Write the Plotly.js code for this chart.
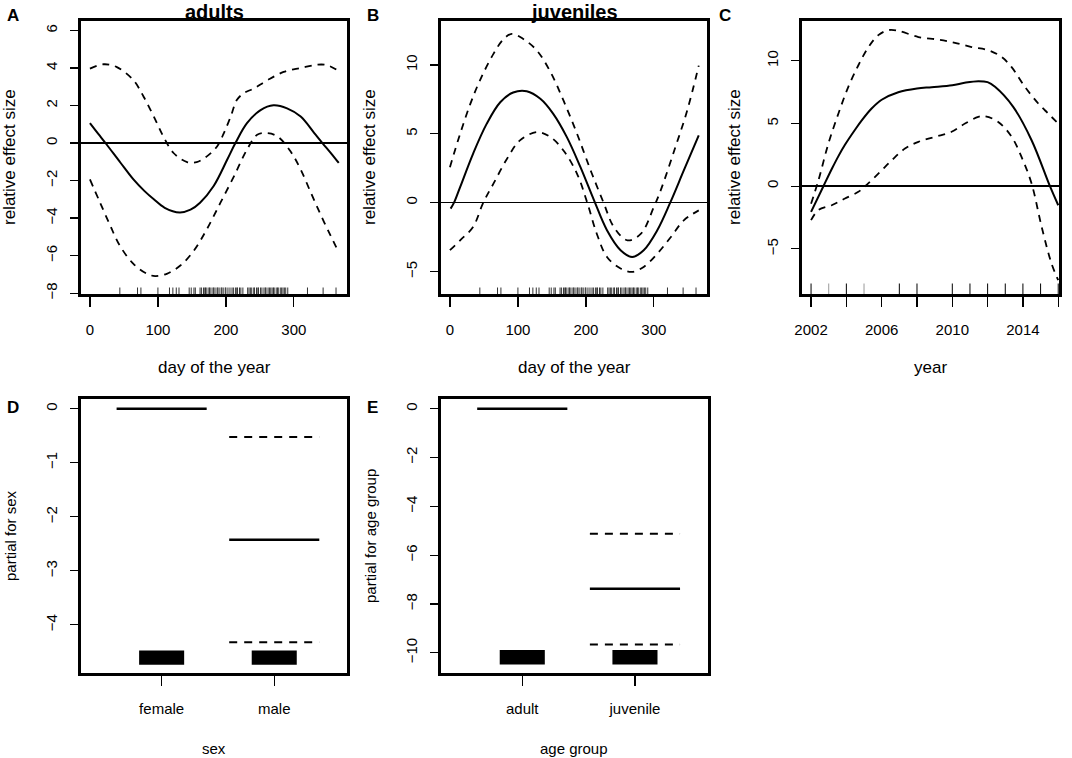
<!DOCTYPE html>
<html>
<head>
<meta charset="utf-8">
<script src="https://cdn.plot.ly/plotly-3.0.1.min.js"></script>
<style>
  html, body { margin: 0; padding: 0; background: #fff; }
  #plot { width: 1072px; height: 758px; }
</style>
</head>
<body>
<div id="plot"></div>
<script>
// ---- data ----
// A: adults, day of year
var dayA_fit = [0, 12, 24, 45, 64, 80, 94, 110, 132, 148, 162, 182, 202, 214, 231, 251, 270, 290, 310, 330, 342, 355, 366];
var adults_fit = [1.06, 0.5, -0.05, -1.05, -1.94, -2.55, -3.0, -3.45, -3.7, -3.55, -3.18, -2.29, -0.88, 0, 1.06, 1.76, 2.01, 1.85, 1.41, 0.53, 0, -0.56, -1.06];
var dayA_up = [0, 20, 39, 64, 79, 94, 108, 123, 143, 157, 172, 187, 197, 207, 216, 226, 241, 261, 285, 310, 335, 349, 364];
var adults_up = [3.97, 4.2, 4.06, 3.35, 2.47, 1.41, 0.35, -0.53, -1.02, -1.02, -0.71, -0.18, 0.53, 1.41, 2.29, 2.65, 2.91, 3.35, 3.79, 4.0, 4.18, 4.15, 3.88];
var dayA_lo = [0, 15, 30, 44, 64, 84, 96, 113, 133, 153, 172, 192, 212, 231, 246, 261, 276, 295, 310, 325, 339, 354, 366];
var adults_lo = [-1.94, -3.18, -4.41, -5.47, -6.44, -6.97, -7.09, -6.97, -6.53, -5.73, -4.59, -3.18, -1.76, -0.35, 0.44, 0.53, 0.35, -0.44, -1.41, -2.65, -3.79, -4.94, -5.82];

// B: juveniles, day of year
var dayB_fit = [1, 6, 15, 34, 54, 74, 93, 113, 133, 152, 172, 192, 212, 231, 251, 268, 285, 305, 324, 344, 366];
var juv_fit = [-0.43, 0, 1.13, 3.55, 5.72, 7.29, 8.0, 8.09, 7.54, 6.45, 4.76, 2.58, 0.17, -2.0, -3.45, -3.94, -3.45, -2.0, 0, 2.34, 4.88];
var dayB_up = [0, 15, 30, 44, 64, 79, 91, 108, 128, 148, 167, 187, 207, 226, 241, 261, 281, 300, 310, 330, 349, 366];
var juv_up = [2.58, 5.0, 7.17, 8.86, 10.8, 11.88, 12.25, 11.88, 11.04, 9.47, 7.42, 5.0, 2.34, 0, -1.76, -2.73, -2.25, -0.31, 0.89, 3.79, 6.69, 9.95];
var dayB_lo = [0, 15, 34, 49, 64, 84, 103, 128, 148, 167, 187, 202, 216, 231, 251, 268, 285, 305, 325, 344, 366];
var juv_lo = [-3.45, -2.73, -1.76, 0, 1.38, 3.19, 4.52, 5.12, 4.76, 3.79, 2.1, 0, -2.25, -3.94, -4.78, -5.02, -4.66, -3.7, -2.49, -1.28, -0.56];

// observation days (rug), shared by A and B
var rugDays = [44, 70, 75, 100, 117, 122, 127, 131, 146, 149, 153, 155, 162, 164, 167, 169, 170, 172, 175, 176, 178, 181, 182, 184, 187, 188, 190, 193, 194, 196, 199, 200, 203, 206,
  209, 211, 214, 216, 217, 220, 222, 225, 232, 234, 236, 238, 241, 242, 245, 247, 248, 251, 253, 256, 258, 259, 262, 264, 266, 268, 270, 271, 274, 276, 277, 280, 282, 284, 286, 288, 291, 320, 343, 362];

// C: year
var yearC_fit = [2002, 2002.7, 2003.2, 2003.55, 2003.92, 2004.49, 2004.87, 2005.43, 2006, 2006.94, 2008, 2008.83, 2010, 2010.7, 2011.47, 2012.0, 2012.42, 2013.45, 2014.49, 2015.53, 2016];
var year_fit = [-2.05, 0, 1.45, 2.4, 3.3, 4.5, 5.25, 6.2, 6.9, 7.5, 7.8, 7.9, 8.05, 8.25, 8.38, 8.3, 7.93, 6.33, 3.67, 0, -1.52];
var yearC_up = [2002, 2002.42, 2002.98, 2003.55, 2004.11, 2004.68, 2005.25, 2005.81, 2006.38, 2006.94, 2008.08, 2009.2, 2010.15, 2011.1, 2012.04, 2012.8, 2013.36, 2014.11, 2014.87, 2015.43, 2016];
var year_up = [-1.4, 0.48, 3.4, 5.8, 7.93, 9.65, 11.1, 12.05, 12.45, 12.4, 11.9, 11.7, 11.44, 11.1, 10.85, 10.3, 9.5, 7.93, 6.6, 5.8, 5.0];
var yearC_lo = [2002, 2002.42, 2003.17, 2003.92, 2004.68, 2005.06, 2005.81, 2006.57, 2007.32, 2008.08, 2009.02, 2009.96, 2010.72, 2011.47, 2011.85, 2012.6, 2013.36, 2013.92, 2014.49, 2015.06, 2015.62, 2016];
var year_lo = [-2.71, -1.9, -1.52, -0.98, -0.45, 0, 1.0, 2.07, 3.0, 3.54, 3.94, 4.34, 5.0, 5.53, 5.58, 5.13, 3.94, 2.34, 0.21, -3.24, -6.17, -7.5];
var rugYears = [2002, 2003, 2004, 2005, 2007, 2008, 2010, 2011, 2012, 2013, 2014, 2015, 2016];
var rugYearsLight = [2003, 2005];
var yearTicks = [2002, 2004, 2006, 2008, 2010, 2012, 2014, 2016];
var yearTickText = ['2002', '', '2006', '', '2010', '', '2014', ''];

// D: sex
var sexLevels = ['female', 'male'];
var sex_fit = [0, -2.426];
var sex_up = [null, -0.524];
var sex_lo = [null, -4.32];

// E: age group
var ageLevels = ['adult', 'juvenile'];
var age_fit = [0, -7.38];
var age_up = [null, -5.12];
var age_lo = [null, -9.66];

// ---- helpers ----
var W = 1072, H = 758;
function fx(p) { return p / W; }
function fy(p) { return 1 - p / H; }
var FONT = 'Liberation Sans, Arial, Helvetica, sans-serif';

var boxes = {
  A: { x: [80, 348], y: [20, 295], yr: [-8.1, 6.56], xr: [-14.6, 379.6] },
  B: { x: [440, 708], y: [20, 295], yr: [-6.7, 13.26], xr: [-14.6, 379.6] },
  C: { x: [801, 1060], y: [20, 295], yr: [-8.68, 13.26], xr: [2001.43, 2016.1] },
  D: { x: [80, 348], y: [398, 674], yr: [-4.91, 0.2], xr: [0.275, 2.655] },
  E: { x: [440, 709], y: [398, 674], yr: [-10.87, 0.44], xr: [0.27, 2.657] }
};

function xAxis(b, anchor, extra) {
  var a = {
    domain: [fx(b.x[0]), fx(b.x[1])], range: b.xr, anchor: anchor,
    showline: true, mirror: true, linecolor: '#000', linewidth: 2,
    ticks: 'outside', ticklen: 10, tickwidth: 1.2,
    tickcolor: '#000', showgrid: false, zeroline: false, fixedrange: true,
    tickfont: { family: FONT, size: 15, color: '#000' }, ticklabelstandoff: 10
  };
  return Object.assign(a, extra || {});
}
function yAxis(b, anchor, extra) {
  var a = {
    domain: [fy(b.y[1]), fy(b.y[0])], range: b.yr, anchor: anchor,
    showline: true, mirror: true, linecolor: '#000', linewidth: 2,
    ticks: 'outside', ticklen: 8, tickwidth: 1.2,
    tickcolor: '#000', showgrid: false, zeroline: false, fixedrange: true, tickangle: -90,
    tickfont: { family: FONT, size: 15, color: '#000' }, ticklabelstandoff: 7
  };
  return Object.assign(a, extra || {});
}

var traces = [];
function line(xs, ys, ax, dash, w) {
  traces.push({
    x: xs, y: ys, xaxis: 'x' + ax, yaxis: 'y' + ax, type: 'scatter', mode: 'lines',
    line: { color: '#000', width: w || 2, dash: dash || 'solid', shape: 'spline', smoothing: 1 },
    hoverinfo: 'skip'
  });
}
function rug(vals, ax, b, hpx, color) {
  var h = (b.yr[1] - b.yr[0]) * hpx / (b.y[1] - b.y[0]);
  var xs = [], ys = [];
  vals.forEach(function (v) { xs.push(v, v, null); ys.push(b.yr[0], b.yr[0] + h, null); });
  traces.push({
    x: xs, y: ys, xaxis: 'x' + ax, yaxis: 'y' + ax, type: 'scatter', mode: 'lines',
    line: { color: color, width: 1 }, hoverinfo: 'skip'
  });
}

var DASH = '7px,6px';
// A
line(dayA_fit, adults_fit, '', 'solid', 2);
line(dayA_up, adults_up, '', DASH, 1.8);
line(dayA_lo, adults_lo, '', DASH, 1.8);
rug(rugDays, '', boxes.A, 7.5, '#333');
// B
line(dayB_fit, juv_fit, '2', 'solid', 2);
line(dayB_up, juv_up, '2', DASH, 1.8);
line(dayB_lo, juv_lo, '2', DASH, 1.8);
rug(rugDays, '2', boxes.B, 7.5, '#333');
// C
line(yearC_fit, year_fit, '3', 'solid', 2);
line(yearC_up, year_up, '3', DASH, 1.8);
line(yearC_lo, year_lo, '3', DASH, 1.8);
rug(rugYears.filter(function (y) { return rugYearsLight.indexOf(y) < 0; }), '3', boxes.C, 11.5, '#000');
rug(rugYearsLight, '3', boxes.C, 11.5, '#999');

// D / E factor terms
function factorPanel(levels, fit, up, lo, ax, rugLow, rugHigh) {
  levels.forEach(function (lv, i) {
    var c = i + 1;
    traces.push({ x: [c - 0.4, c + 0.4], y: [fit[i], fit[i]], xaxis: 'x' + ax, yaxis: 'y' + ax,
      type: 'scatter', mode: 'lines', line: { color: '#000', width: 2.5 }, hoverinfo: 'skip' });
    [up[i], lo[i]].forEach(function (v) {
      if (v === null) return;
      traces.push({ x: [c - 0.4, c + 0.4], y: [v, v], xaxis: 'x' + ax, yaxis: 'y' + ax,
        type: 'scatter', mode: 'lines', line: { color: '#000', width: 2, dash: '8px,7px' }, hoverinfo: 'skip' });
    });
  });
  traces.push({
    x: [1, 2], y: [rugHigh - rugLow, rugHigh - rugLow], base: [rugLow, rugLow], width: 0.4,
    type: 'bar', xaxis: 'x' + ax, yaxis: 'y' + ax, marker: { color: '#000', line: { width: 0 } },
    hoverinfo: 'skip'
  });
}
factorPanel(sexLevels, sex_fit, sex_up, sex_lo, '4', -4.74, -4.476);
factorPanel(ageLevels, age_fit, age_up, age_lo, '5', -10.48, -9.89);

var zl = { zeroline: true, zerolinecolor: '#000', zerolinewidth: 1.5 };
var layout = {
  width: W, height: H, margin: { l: 0, r: 0, t: 0, b: 0 }, showlegend: false,
  paper_bgcolor: '#fff', plot_bgcolor: 'rgba(0,0,0,0)', font: { family: FONT, color: '#000' },
  xaxis: xAxis(boxes.A, 'y', { tickvals: [0, 100, 200, 300] }),
  yaxis: yAxis(boxes.A, 'x', Object.assign({ tickvals: [-8, -6, -4, -2, 0, 2, 4, 6] }, zl)),
  xaxis2: xAxis(boxes.B, 'y2', { tickvals: [0, 100, 200, 300] }),
  yaxis2: yAxis(boxes.B, 'x2', Object.assign({ tickvals: [-5, 0, 5, 10] }, zl)),
  xaxis3: xAxis(boxes.C, 'y3', { tickvals: yearTicks, ticktext: yearTickText }),
  yaxis3: yAxis(boxes.C, 'x3', Object.assign({ tickvals: [-5, 0, 5, 10] }, zl)),
  xaxis4: xAxis(boxes.D, 'y4', { tickvals: [1, 2], ticktext: sexLevels }),
  yaxis4: yAxis(boxes.D, 'x4', { tickvals: [0, -1, -2, -3, -4] }),
  xaxis5: xAxis(boxes.E, 'y5', { tickvals: [1, 2], ticktext: ageLevels }),
  yaxis5: yAxis(boxes.E, 'x5', { tickvals: [0, -2, -4, -6, -8, -10] }),
  annotations: [],
  shapes: []
};

// plot frames (R box), in page pixels
['A', 'B', 'C', 'D', 'E'].forEach(function (k) {
  var b = boxes[k];
  layout.shapes.push({
    type: 'rect', xref: 'paper', yref: 'paper',
    x0: fx(b.x[0]), x1: fx(b.x[1]), y0: fy(b.y[1]), y1: fy(b.y[0]),
    line: { color: '#000', width: 2 }, fillcolor: 'rgba(0,0,0,0)', layer: 'above'
  });
});

function ann(text, x, y, size, bold, angle) {
  layout.annotations.push({
    text: bold ? '<b>' + text + '</b>' : text, x: fx(x), y: fy(y), xref: 'paper', yref: 'paper',
    showarrow: false, xanchor: 'center', yanchor: 'middle', textangle: angle || 0,
    font: { family: FONT, size: size, color: '#000' }
  });
}
// panel letters
ann('A', 12.5, 15, 17, true);
ann('B', 372.5, 15, 17, true);
ann('C', 725, 15, 17, true);
ann('D', 12.5, 407, 17, true);
ann('E', 372.5, 407, 17, true);
// titles
ann('adults', 214, 12.5, 20, true);
ann('juveniles', 574, 12.5, 20, true);
// axis titles
ann('day of the year', 214, 368, 17);
ann('day of the year', 574, 368, 17);
ann('year', 930, 368, 17);
ann('relative effect size', 10, 157, 17, false, -90);
ann('relative effect size', 370, 157, 17, false, -90);
ann('relative effect size', 735, 157, 17, false, -90);
ann('sex', 214, 748, 15);
ann('age group', 574, 748, 15);
ann('partial for sex', 10, 536, 15, false, -90);
ann('partial for age group', 370, 536, 15, false, -90);

Plotly.newPlot('plot', traces, layout, { displayModeBar: false, staticPlot: true });
</script>
</body>
</html>
